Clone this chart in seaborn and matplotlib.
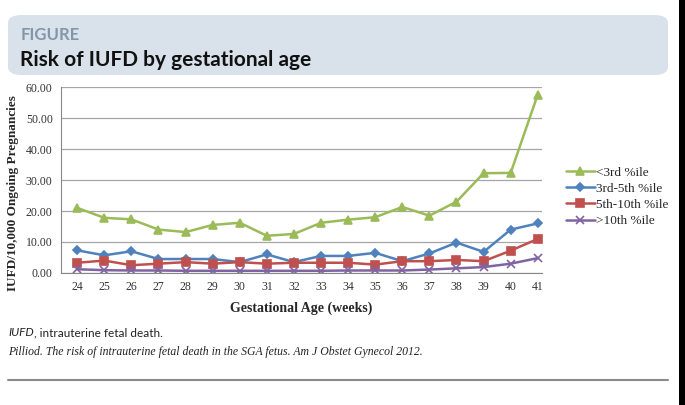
import numpy as np
import pandas as pd
import matplotlib.pyplot as plt
from matplotlib.patches import FancyBboxPatch, Rectangle
import seaborn as sns

# === Data ===
weeks = list(range(24, 42))
lt3 = [21.0, 17.8, 17.3, 14.0, 13.2, 15.5, 16.2, 12.0, 12.6, 16.2, 17.2, 18.0,
       21.3, 18.5, 23.0, 32.2, 32.3, 57.6]
p3_5 = [7.3, 5.7, 7.0, 4.5, 4.5, 4.5, 3.5, 6.0, 3.5, 5.5, 5.5, 6.5,
        3.8, 6.3, 9.8, 6.8, 14.0, 16.0]
p5_10 = [3.3, 4.0, 2.5, 3.0, 3.5, 3.0, 3.5, 3.0, 3.3, 3.3, 3.3, 2.7,
         3.8, 3.8, 4.2, 3.8, 7.2, 11.0]
gt10 = [1.2, 0.9, 0.8, 0.8, 0.7, 0.7, 0.7, 0.7, 0.7, 0.7, 0.8, 0.8,
        0.8, 1.1, 1.5, 1.9, 3.0, 4.8]
series = ["<3rd %ile", "3rd-5th %ile", "5th-10th %ile", ">10th %ile"]
colors = ["#9bbb59", "#4f81bd", "#c0504d", "#8064a2"]
markers = ["^", "D", "s", "x"]
msizes = [6, 4.5, 6, 6]

df = pd.DataFrame({
    "week": weeks * 4,
    "rate": lt3 + p3_5 + p5_10 + gt10,
    "group": [s for s in series for _ in weeks],
})

sns.set_style("white")
plt.rcParams["font.family"] = ["Liberation Serif", "DejaVu Serif"]

fig = plt.figure(figsize=(6.85, 4.05), dpi=100)
ax = fig.add_axes([0.089, 0.326, 0.702, 0.459])

# Excel-style: draw each series on its own so filled and line markers can mix
for name, col, mk, ms in zip(series, colors, markers, msizes):
    sub = df[df["group"] == name]
    sns.lineplot(data=sub, x="week", y="rate", color=col, marker=mk,
                 markersize=ms, markeredgecolor=col, markeredgewidth=1.2,
                 linewidth=1.8, label=name, ax=ax)

ax.set_ylim(0, 60)
ax.set_xlim(23.4, 41.15)
ax.set_yticks(np.arange(0, 61, 10))
ax.set_yticklabels([f"{v:.2f}" for v in np.arange(0, 61, 10)], fontsize=8.5, color="#333333")
ax.set_xticks(weeks)
ax.set_xticklabels([str(w) for w in weeks], fontsize=8.5, color="#333333")
ax.grid(axis="y", color="#a6a6a6", linewidth=0.9)
for side in ["top", "right"]:
    ax.spines[side].set_visible(False)
ax.spines["left"].set_color("#888888")
ax.spines["bottom"].set_color("#888888")
ax.tick_params(axis="both", length=0, pad=6)
ax.set_xlabel("Gestational Age (weeks)", fontsize=10, fontweight="bold", labelpad=6)
ax.set_ylabel("IUFD/10,000 Ongoing Pregnancies", fontsize=9.5, fontweight="bold")
ax.yaxis.set_label_coords(-0.088, 0.43)

leg = ax.legend(loc="center left", bbox_to_anchor=(1.025, 0.41), frameon=False,
                fontsize=9.5, handlelength=2.2, handletextpad=0.1, labelspacing=0.3)

# === Header box ===
fig.patches.append(FancyBboxPatch((8 / 685, 1 - 75 / 405), 660 / 685, 60 / 405,
                                  boxstyle="round,pad=0,rounding_size=0.02",
                                  transform=fig.transFigure, facecolor="#d9e1ea",
                                  edgecolor="none", zorder=0))
narrow = ["Lato", "Liberation Sans", "DejaVu Sans"]
fig.text(21 / 685, 1 - 35 / 405, "FIGURE", family=narrow, fontsize=12,
         fontweight="bold", color="#8196a9", va="center")
fig.text(20 / 685, 1 - 60 / 405, "Risk of IUFD by gestational age", family=narrow,
         fontsize=15, fontweight="bold", color="#111111", va="center")

# === Footnotes ===
t1 = fig.text(8 / 685, 1 - 333 / 405, "IUFD", family=narrow, fontsize=8.5,
              style="italic", color="#222222", va="center")
fig.canvas.draw()
x_end = t1.get_window_extent().x1 / fig.bbox.width
fig.text(x_end, 1 - 333 / 405, ", intrauterine fetal death.", family=narrow,
         fontsize=8.5, color="#222222", va="center")
fig.text(8 / 685, 1 - 352 / 405,
         "Pilliod. The risk of intrauterine fetal death in the SGA fetus. Am J Obstet Gynecol 2012.",
         fontsize=8.5, style="italic", color="#222222", va="center")
fig.lines.append(plt.Line2D([8 / 685, 668 / 685], [1 - 380 / 405] * 2,
                            transform=fig.transFigure, color="#8a8a8a", linewidth=1.5))
fig.patches.append(Rectangle((679 / 685, 0), 6 / 685, 1, transform=fig.transFigure,
                             facecolor="black", edgecolor="none"))

fig.savefig("out.png", dpi=100)
